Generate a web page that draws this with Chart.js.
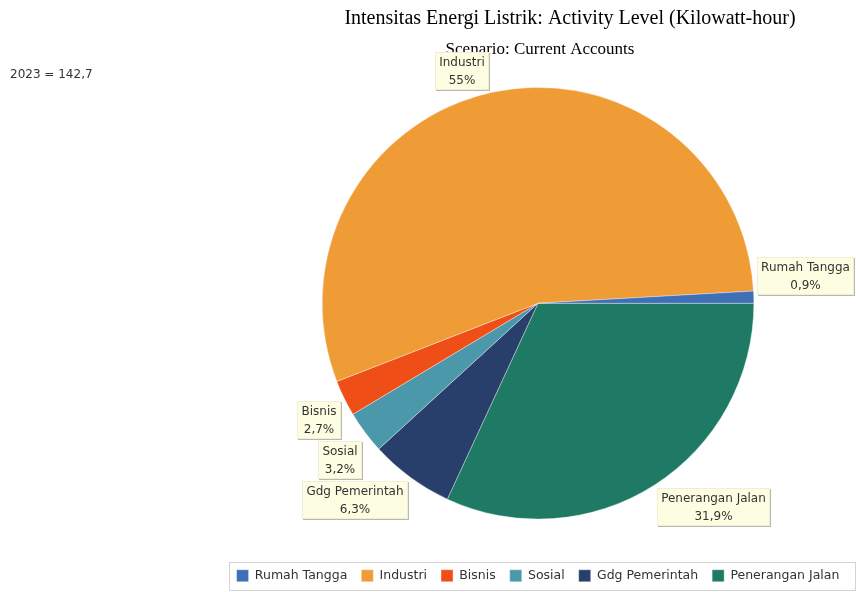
<!DOCTYPE html>
<html lang="id">
<head>
<meta charset="UTF-8">
<title>Intensitas Energi Listrik</title>
<script src="https://cdn.jsdelivr.net/npm/chart.js"></script>
<style>
  body { margin: 0; background: #fff; }
</style>
</head>
<body>
<canvas id="pieChart" width="856" height="592"></canvas>

<script>
// categories in legend order, shares in percent of the 2023 total
const categories = ['Rumah Tangga', 'Industri', 'Bisnis', 'Sosial', 'Gdg Pemerintah', 'Penerangan Jalan'];
const shares = [0.9, 55, 2.7, 3.2, 6.3, 31.9];
const sliceColors = ['#3f6fb6', '#f09c36', '#ef4e17', '#4a98aa', '#283f6b', '#1e7a65'];

const chartTitle = 'Intensitas Energi Listrik: Activity Level (Kilowatt-hour)';
const scenarioText = 'Scenario: Current Accounts';
const yearTotal = '2023 = 142,7';

const labelFont = '12px "DejaVu Sans", sans-serif';

function fmtPct(v) {
    return (Number.isInteger(v) ? String(v) : v.toFixed(1).replace('.', ',')) + '%';
}

// headings, legend frame and the yellow callout boxes next to each slice
const calloutPlugin = {
    id: 'callouts',
    afterDraw(chart) {
        const ctx = chart.ctx;
        ctx.save();

        ctx.fillStyle = '#000';
        ctx.textAlign = 'center';
        ctx.textBaseline = 'middle';
        ctx.font = '20px "Liberation Serif", serif';
        ctx.fillText(chartTitle, 570, 19);
        ctx.font = '17px "Liberation Serif", serif';
        ctx.fillText(scenarioText, 540, 50);

        ctx.textAlign = 'left';
        ctx.fillStyle = '#333';
        ctx.font = labelFont;
        ctx.fillText(yearTotal, 10, 75);

        // frame around the legend
        const hb = chart.legend.legendHitBoxes;
        if (hb && hb.length) {
            const minLeft = Math.round(Math.min(...hb.map(b => b.left)) - 8);
            const top = Math.round(hb[0].top - 8);
            ctx.strokeStyle = '#d4d4d4';
            ctx.lineWidth = 1;
            ctx.strokeRect(minLeft + 0.5, top + 0.5, chart.width - minLeft - 1, 28);
        }

        const meta = chart.getDatasetMeta(0);
        const labels = chart.data.labels;
        const values = chart.data.datasets[0].data;
        const boxes = meta.data.map((arc, i) => {
            const p = arc.getProps(['x', 'y', 'startAngle', 'endAngle', 'outerRadius'], true);
            const mid = (p.startAngle + p.endAngle) / 2;
            const ax = p.x + Math.cos(mid) * p.outerRadius;
            const ay = p.y + Math.sin(mid) * p.outerRadius;
            const lines = [labels[i], fmtPct(values[i])];
            const w = Math.ceil(Math.max(...lines.map(t => ctx.measureText(t).width))) + 8;
            const h = 38;
            const right = Math.cos(mid) >= 0;
            const below = Math.sin(mid) >= 0;
            return {
                left: right ? ax + 3 : ax - 3 - w,
                top: below ? ay + 3 : ay - h - 2,
                w, h, lines, right
            };
        });

        // push overlapping boxes downwards on each side
        [true, false].forEach(side => {
            const list = boxes.filter(b => b.right === side).sort((a, b) => a.top - b.top);
            for (let k = 1; k < list.length; k++) {
                const prev = list[k - 1], cur = list[k];
                const overlapX = cur.left < prev.left + prev.w && prev.left < cur.left + cur.w;
                if (overlapX && cur.top < prev.top + prev.h + 2) cur.top = prev.top + prev.h + 2;
            }
        });

        boxes.forEach(b => {
            const x = Math.round(b.left), y = Math.round(b.top);
            ctx.fillStyle = '#b8b8b0';
            ctx.fillRect(x + 1, y + 1, b.w, b.h);
            ctx.fillStyle = '#fdfde2';
            ctx.fillRect(x, y, b.w, b.h);
            ctx.strokeStyle = '#efefd8';
            ctx.strokeRect(x + 0.5, y + 0.5, b.w - 1, b.h - 1);
            ctx.fillStyle = '#333';
            ctx.textAlign = 'center';
            ctx.font = labelFont;
            ctx.fillText(b.lines[0], x + b.w / 2, y + 11);
            ctx.fillText(b.lines[1], x + b.w / 2, y + 29);
        });

        ctx.restore();
    }
};

// slices run counter-clockwise from 3 o'clock, so feed them reversed
const ctx = document.getElementById('pieChart').getContext('2d');
new Chart(ctx, {
    type: 'pie',
    data: {
        labels: categories.slice().reverse(),
        datasets: [{
            data: shares.slice().reverse(),
            backgroundColor: sliceColors.slice().reverse(),
            borderColor: 'rgba(255,255,255,0.45)',
            borderWidth: 0.8
        }]
    },
    options: {
        responsive: false,
        animation: false,
        rotation: 90,
        layout: { padding: { left: 220, top: 87, right: 0, bottom: 0 } },
        plugins: {
            legend: {
                position: 'bottom',
                reverse: true,
                labels: {
                    boxWidth: 12,
                    boxHeight: 12,
                    padding: 14,
                    color: '#333',
                    font: { family: 'DejaVu Sans', size: 12.5 }
                }
            },
            subtitle: {
                display: true,
                position: 'bottom',
                weight: 500,
                text: '',
                font: { size: 10 },
                padding: { top: 24, bottom: 0 }
            },
            tooltip: { enabled: false }
        }
    },
    plugins: [calloutPlugin]
});
</script>
</body>
</html>
